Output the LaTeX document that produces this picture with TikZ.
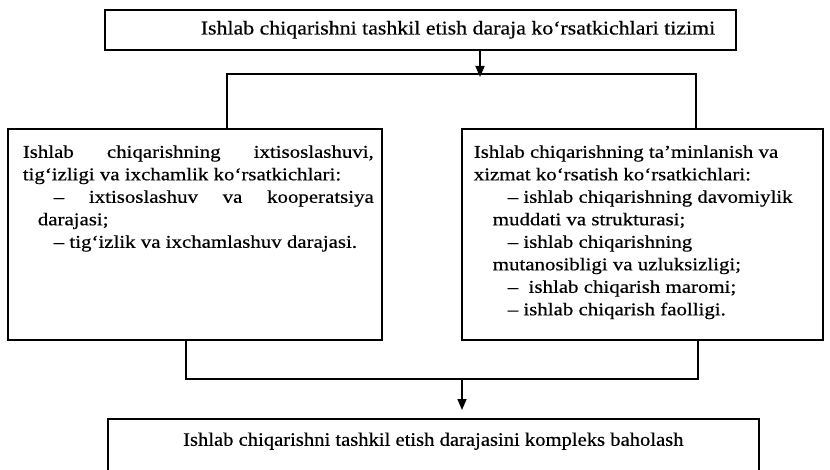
\documentclass[tikz,border=0pt]{standalone}
\usepackage{fontspec}
\setmainfont{Liberation Serif}
\newfontfamily\boxfont[FakeStretch=1.16,FakeBold=0.5]{Liberation Serif}
\newfontfamily\topfont[FakeStretch=1.12,FakeBold=0.5]{Liberation Serif}
\newfontfamily\botfont[FakeStretch=1.085,FakeBold=0.5]{Liberation Serif}
\usetikzlibrary{arrows.meta}
\begin{document}
\begin{tikzpicture}[x=1pt,y=-1pt,
  box/.style={draw, line width=1.6pt, inner sep=0pt, anchor=north west},
  wire/.style={line width=1.6pt},
  arr/.style={wire, -{Triangle[length=11pt,width=9pt]}}]
\useasboundingbox (0,0) rectangle (830,470);
\clip (0,0) rectangle (830,470);
\fill[white] (0,0) rectangle (830,470);

\node[box, minimum width=631pt, minimum height=40pt] (top) at (104,9)
  {\makebox[631pt][l]{\hspace*{96pt}\topfont\fontsize{19.5pt}{24pt}\selectfont Ishlab chiqarishni tashkil etish daraja ko‘rsatkichlari tizimi}};

\node[box] (L) at (7,128) {\begin{minipage}[t][211pt][t]{374pt}\boxfont\fontsize{18pt}{22.5pt}\selectfont\leftskip=15pt\rightskip=8pt\parindent=0pt
\rule{0pt}{29pt}Ishlab\hfill chiqarishning\hfill ixtisoslashuvi,\\
tig‘izligi va ixchamlik ko‘rsatkichlari:\\
\hspace*{31pt}–\hfill ixtisoslashuv\hfill va\hfill kooperatsiya\\
\hspace*{15pt}darajasi;\\
\hspace*{31pt}– tig‘izlik va ixchamlashuv darajasi.
\end{minipage}};

\node[box] (R) at (461,128) {\begin{minipage}[t][211pt][t]{361pt}\boxfont\fontsize{18pt}{22.5pt}\selectfont\raggedright\leftskip=12pt
\rule{0pt}{29pt}Ishlab chiqarishning ta’minlanish va\\
xizmat ko‘rsatish ko‘rsatkichlari:\\
\hspace*{34pt}– ishlab chiqarishning davomiylik\\
\hspace*{19pt}muddati va strukturasi;\\
\hspace*{34pt}– ishlab chiqarishning\\
\hspace*{19pt}mutanosibligi va uzluksizligi;\\
\hspace*{34pt}–\ \ ishlab chiqarish maromi;\\
\hspace*{34pt}– ishlab chiqarish faolligi.
\end{minipage}};

\node[box] (B) at (107,418) {\parbox[t][62pt][t]{651pt}{\centering\botfont\fontsize{19pt}{24pt}\selectfont\rule{0pt}{27pt}Ishlab chiqarishni tashkil etish darajasini kompleks baholash}};

\coordinate (c1) at (480,74);
\coordinate (cl) at (227,74);
\coordinate (cr) at (696,74);
\coordinate (dl) at (186,379);
\coordinate (dr) at (698,379);
\coordinate (d1) at (462,379);

\draw[arr, shorten >=-3pt] (top.south -| c1) -- (c1);
\draw[wire] (L.north -| cl) -- (cl) -- (cr) -- (R.north -| cr);
\draw[wire] (L.south -| dl) -- (dl) -- (dr) -- (R.south -| dr);
\draw[arr, shorten >=8pt] (d1) -- (B.north -| d1);
\end{tikzpicture}
\end{document}
